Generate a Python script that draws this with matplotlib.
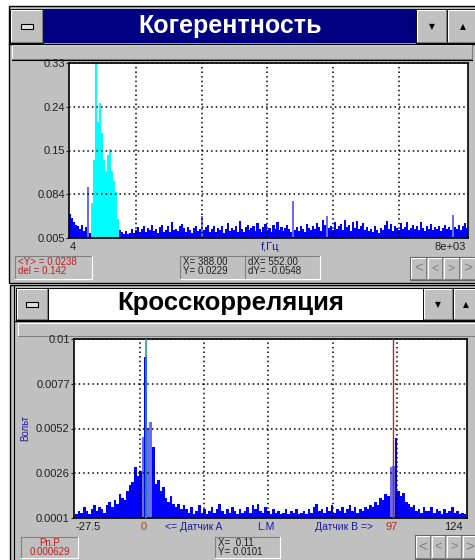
import matplotlib
matplotlib.use("Agg")
import matplotlib.pyplot as plt
import numpy as np
from matplotlib.patches import Rectangle

plt.rcParams['font.family'] = ['Liberation Sans', 'DejaVu Sans']

# --- data: coherence spectrum (200 bins of 40 Hz from 4 Hz) ---
coh_start_hz = 4
coh_bin_hz = 40
coh_values = [
    0.050, 0.042, 0.035, 0.030, 0.028, 0.022, 0.030, 0.018, 0.025, 0.100,
    0.015, 0.070, 0.150, 0.330, 0.220, 0.255, 0.200, 0.150, 0.130, 0.160,
    0.170, 0.130, 0.110, 0.090, 0.040,
    0.020, 0.016, 0.013, 0.018, 0.012, 0.015, 0.021, 0.014, 0.019, 0.026, 0.017, 0.022, 0.028,
    0.016, 0.024, 0.019, 0.030, 0.018, 0.021, 0.015, 0.025, 0.029, 0.017, 0.020, 0.027,
    0.016, 0.034, 0.019, 0.022, 0.018, 0.028, 0.031, 0.024, 0.017, 0.026, 0.020, 0.015, 0.023,
    0.027, 0.018, 0.021, 0.046, 0.019, 0.025, 0.030, 0.017, 0.022, 0.028, 0.016, 0.024,
    0.020, 0.027, 0.015, 0.021, 0.032, 0.018, 0.024, 0.019, 0.028, 0.016, 0.036, 0.022, 0.017,
    0.025, 0.030, 0.019, 0.023, 0.027, 0.018, 0.033, 0.021, 0.016, 0.026, 0.031, 0.020,
    0.024, 0.017, 0.029, 0.022, 0.035, 0.019, 0.026, 0.018, 0.023, 0.030, 0.021, 0.017, 0.074,
    0.020, 0.025, 0.018, 0.028, 0.022, 0.016, 0.031, 0.024, 0.019, 0.027, 0.021, 0.033,
    0.026, 0.018, 0.038, 0.030, 0.046, 0.024, 0.028, 0.019, 0.035, 0.022, 0.027, 0.031, 0.020,
    0.038, 0.025, 0.029, 0.018, 0.034, 0.023, 0.036, 0.021, 0.027, 0.032, 0.019, 0.025,
    0.018, 0.022, 0.016, 0.027, 0.020, 0.015, 0.024, 0.019, 0.029, 0.036, 0.022, 0.031, 0.018,
    0.027, 0.024, 0.020, 0.033, 0.021, 0.026, 0.035, 0.019, 0.024, 0.030, 0.022, 0.028,
    0.020, 0.034, 0.023, 0.018, 0.027, 0.021, 0.031, 0.019, 0.025, 0.022, 0.028, 0.018, 0.024,
    0.030, 0.021, 0.026, 0.019, 0.048, 0.025, 0.022, 0.029, 0.020, 0.027, 0.033, 0.024,
]
coh_cyan_bins = list(range(11, 25))        # selected band
coh_light_bins = [9, 66, 112, 129, 192]
coh_yticklabels = ["0.005", "0.084", "0.15", "0.24", "0.33"]

# --- data: cross-correlation, lag -27 .. 125 ---
xc_first_lag = -27
xc_values = [
    # -27 .. -1
    0.0003, 0.0005, 0.0004, 0.0007, 0.0005, 0.0003, 0.0006, 0.0008, 0.0005, 0.0007,
    0.0006, 0.0004, 0.0008, 0.0010, 0.0007, 0.0011, 0.0009, 0.0014, 0.0012, 0.0011,
    0.0016, 0.0019, 0.0021, 0.0029, 0.0024, 0.0027, 0.0046,
    # 0 .. 15
    0.0090, 0.0051, 0.0054, 0.0040, 0.0020, 0.0022, 0.0016, 0.0018, 0.0012, 0.0010,
    0.0013, 0.0009, 0.0007, 0.0009, 0.0006, 0.0008,
    # 16 .. 84
    0.0006, 0.0004, 0.0007, 0.0003, 0.0005, 0.0008, 0.0004, 0.0006, 0.0003, 0.0005,
    0.0007, 0.0004, 0.0006, 0.0009, 0.0005, 0.0003, 0.0006, 0.0004, 0.0007, 0.0005,
    0.0003, 0.0006, 0.0004, 0.0005, 0.0007, 0.0004, 0.0008, 0.0006, 0.0009, 0.0005,
    0.0004, 0.0007, 0.0005, 0.0003, 0.0006, 0.0004, 0.0005, 0.0003, 0.0004, 0.0006,
    0.0003, 0.0005, 0.0004, 0.0006, 0.0003, 0.0004, 0.0005, 0.0003, 0.0006, 0.0004,
    0.0007, 0.0009, 0.0005, 0.0006, 0.0004, 0.0007, 0.0005, 0.0008, 0.0004, 0.0006,
    0.0005, 0.0007, 0.0004, 0.0006, 0.0008, 0.0005, 0.0007, 0.0004, 0.0006,
    # 85 .. 110
    0.0005, 0.0007, 0.0006, 0.0008, 0.0007, 0.0010, 0.0008, 0.0012, 0.0011, 0.0014,
    0.0013, 0.0029, 0.0030, 0.0045, 0.0016, 0.0013, 0.0015, 0.0010, 0.0009, 0.0007,
    0.0008, 0.0005, 0.0006, 0.0004, 0.0007, 0.0005,
    # 111 .. 125
    0.0005, 0.0007, 0.0004, 0.0006, 0.0005, 0.0003, 0.0006, 0.0004, 0.0005, 0.0007,
    0.0004, 0.0005, 0.0003, 0.0004, 0.0003,
]
xc_light_lags = [-1, 1, 2, 96, 97]
xc_marker_a = 0
xc_marker_b = 97
xc_yticklabels = ["0.0001", "0.0026", "0.0052", "0.0077", "0.01"]

W, H = 475, 560
GRAY = "#c0c0c0"
NAVY = "#000080"
BLUE = "#0000ff"
LIGHT = "#6a6aff"
LBLUE = "#1c1ca8"
RED = "#c02020"

fig = plt.figure(figsize=(W / 100, H / 100), dpi=100)
bg = fig.add_axes([0, 0, 1, 1])
bg.set_xlim(0, W)
bg.set_ylim(H, 0)
bg.axis("off")


def box(x0, y0, x1, y1, fc, ec="none", lw=0.0, z=1):
    bg.add_patch(Rectangle((x0, y0), x1 - x0, y1 - y0, facecolor=fc,
                           edgecolor=ec, lw=lw, zorder=z))


def bevel(x0, y0, x1, y1, raised=True, z=3):
    lt, dk = ("white", "#808080") if raised else ("#808080", "white")
    bg.plot([x0, x1], [y0, y0], color=lt, lw=0.8, zorder=z)
    bg.plot([x0, x0], [y0, y1], color=lt, lw=0.8, zorder=z)
    bg.plot([x0, x1], [y1, y1], color=dk, lw=0.8, zorder=z)
    bg.plot([x1, x1], [y0, y1], color=dk, lw=0.8, zorder=z)


def button(x0, y0, x1, y1, glyph=None):
    box(x0, y0, x1, y1, GRAY, "black", 0.7, z=2)
    bevel(x0 + 1, y0 + 1, x1 - 1, y1 - 1)
    if glyph == "menu":
        cx, cy = (x0 + x1) / 2, (y0 + y1) / 2
        box(cx - 6, cy - 2.5, cx + 6, cy + 2.5, "#e0e0e0", "black", 0.8, z=4)
    elif glyph:
        bg.text((x0 + x1) / 2, (y0 + y1) / 2 + 1, glyph, ha="center", va="center",
                fontsize=5.5, family="DejaVu Sans", color="black", zorder=5)


def nav(x0, y0, x1, y1):
    box(x0, y0, x1, y1, GRAY, "#606060", 0.8, z=2)
    step = (x1 - x0) / 4
    for i, (g, fs) in enumerate([("<", 11), ("<", 9), (">", 9), (">", 11)]):
        a = x0 + i * step
        bevel(a + 1, y0 + 1, a + step - 1, y1 - 1)
        bg.text(a + step / 2, (y0 + y1) / 2, g, ha="center", va="center",
                fontsize=fs, color="#808080", zorder=5)


def status(x0, y0, x1, y1, lines, color, ha="left"):
    box(x0, y0, x1, y1, GRAY, z=2)
    bevel(x0, y0, x1, y1, raised=False)
    for k, s in enumerate(lines):
        tx = x0 + 3 if ha == "left" else (x0 + x1) / 2
        bg.text(tx, y0 + 6 + k * 9, s, ha=ha, va="center", fontsize=7,
                color=color, zorder=5)


# ---------- top window: coherence ----------
box(9, 6, 477, 283, GRAY, "black", 1.0)
button(10, 9, 43, 43, "menu")
box(43, 9, 416, 43, NAVY, z=2)
bg.text(230, 26, "Когерентность", ha="center", va="center", fontsize=18,
        fontweight="bold", color="white", zorder=5)
button(416, 9, 447, 43, "▼")
button(447, 9, 478, 43, "▲")
bg.plot([9, 477], [43.5, 43.5], color="black", lw=1, zorder=4)
box(12, 45, 472, 59, GRAY, z=2)
bevel(12, 45, 472, 59)
bg.plot([12, 472], [60, 60], color="black", lw=0.8, zorder=4)

status(15, 256, 92, 279, ["<Y> = 0.0238", "del = 0.142"], RED)
status(180, 256, 245, 279, ["X= 388.00", "Y= 0.0229"], "#202020")
status(245, 256, 320, 279, ["dX= 552.00", "dY= -0.0548"], "#202020")
nav(410, 257, 476, 280)

# ---------- bottom window: cross-correlation ----------
box(10, 285, 477, 562, GRAY, "black", 1.0)
bg.plot([14, 14], [285, 560], color="black", lw=0.8, zorder=4)
button(16, 288, 48, 320, "menu")
box(48, 288, 423, 320, "white", "black", 0.7, z=2)
bg.text(231, 303, "Кросскорреляция", ha="center", va="center", fontsize=18.5,
        fontweight="bold", color="black", zorder=5)
button(423, 288, 453, 320, "▼")
button(453, 288, 478, 320, "▲")
bg.plot([14, 477], [321, 321], color="black", lw=1, zorder=4)
box(18, 323, 476, 336, GRAY, z=2)
bevel(18, 323, 476, 336)

status(21, 537, 78, 558, ["Pn.P", "0.000629"], RED, ha="center")
status(215, 537, 280, 558, ["X=  0.11", "Y= 0.0101"], "#202020")
nav(415, 535, 477, 559)


def plot_axes(x0, y0, x1, y1):
    ax = fig.add_axes([x0 / W, 1 - y1 / H, (x1 - x0) / W, (y1 - y0) / H])
    ax.set_facecolor("white")
    for sp in ax.spines.values():
        sp.set_color("black")
        sp.set_linewidth(1.2)
    ax.grid(True, color="black", linestyle=(0, (1, 2)), linewidth=1.1)
    ax.set_axisbelow(False)
    ax.tick_params(axis="x", length=0, labelbottom=False)
    ax.tick_params(axis="y", length=2, pad=1, labelsize=8, colors="#202020")
    return ax


# top plot
ax1 = plot_axes(69, 63, 468, 238)
coh_x = coh_start_hz + coh_bin_hz / 2 + coh_bin_hz * np.arange(len(coh_values))
coh_colors = [("#00ffff" if i in coh_cyan_bins else LIGHT if i in coh_light_bins else BLUE)
              for i in range(len(coh_values))]
ax1.bar(coh_x, coh_values, width=coh_bin_hz * 1.05, color=coh_colors, linewidth=0, zorder=1)
ax1.set_xlim(coh_start_hz, coh_start_hz + coh_bin_hz * len(coh_values))
ax1.set_ylim(0.005, 0.33)
ax1.set_xticks([1347, 2670, 3973, 5297, 6620])
ax1.set_yticks(np.linspace(0.005, 0.33, 5))
ax1.set_yticklabels(coh_yticklabels)

bg.text(73, 247, "4", ha="center", va="center", fontsize=8, color="#202020")
bg.text(270, 247, "f,Гц", ha="center", va="center", fontsize=8, color=LBLUE)
bg.text(466, 247, "8e+03", ha="right", va="center", fontsize=8, color="#202020")

# bottom plot
ax2 = plot_axes(74, 339, 467, 518)
xc_lags = xc_first_lag + np.arange(len(xc_values))
xc_colors = [LIGHT if l in xc_light_lags else BLUE for l in xc_lags]
ax2.bar(xc_lags, xc_values, width=1.05, color=xc_colors, linewidth=0, zorder=1)
ax2.axvline(xc_marker_a, color="#2a9a8a", lw=1.2, zorder=3)
ax2.axvline(xc_marker_b, color="#b02828", lw=1.0, zorder=3)
ax2.set_xlim(-28, 125.8)
ax2.set_ylim(0.0001, 0.01)
ax2.set_xticks([-2.2, 22.9, 47.9, 73.4, 98.4])
ax2.set_yticks(np.linspace(0.0001, 0.01, 5))
ax2.set_yticklabels(xc_yticklabels)

bg.text(25, 428, "Вольт", ha="center", va="center", rotation=90, fontsize=7, color=LBLUE)
by = 527
bg.text(88, by, "-27.5", ha="center", va="center", fontsize=8, color="#202020")
bg.text(144, by, "0", ha="center", va="center", fontsize=8, color="#b04020")
bg.text(194, by, "<= Датчик A", ha="center", va="center", fontsize=7.5, color=LBLUE)
bg.text(266, by, "L.M", ha="center", va="center", fontsize=7.5, color=LBLUE)
bg.text(344, by, "Датчик B =>", ha="center", va="center", fontsize=7.5, color=LBLUE)
bg.text(392, by, "97", ha="center", va="center", fontsize=8, color="#b02828")
bg.text(463, by, "124", ha="right", va="center", fontsize=8, color="#202020")

fig.savefig("out.png", dpi=100)
